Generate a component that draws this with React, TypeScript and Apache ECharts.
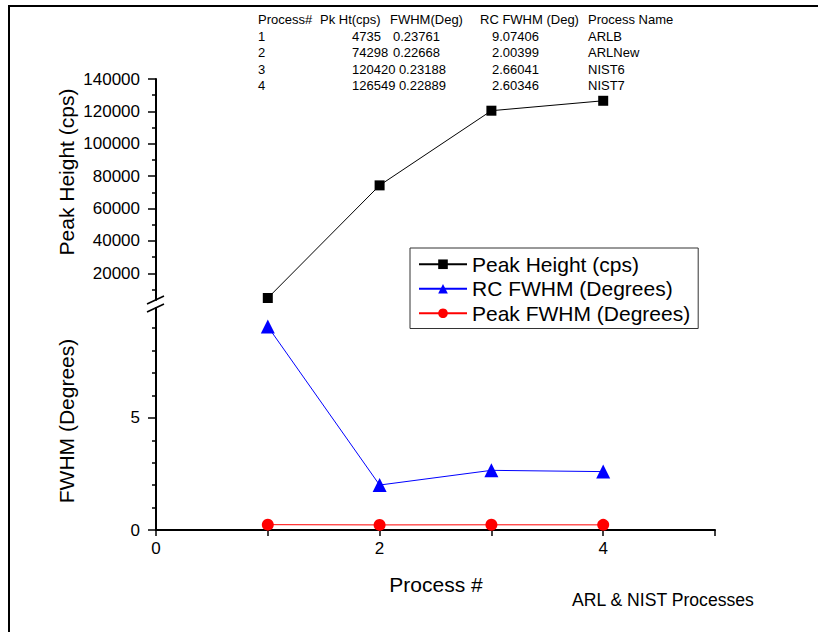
import React, { useEffect, useRef } from 'react';
import * as echarts from 'echarts';

// ---- data ----
const processNums = [1, 2, 3, 4];
const peakHeight = [4735, 74298, 120420, 126549];
const peakFwhm = [0.23761, 0.22668, 0.23188, 0.22889];
const rcFwhm = [9.07406, 2.00399, 2.66041, 2.60346];
const processNames = ['ARLB', 'ARLNew', 'NIST6', 'NIST7'];
const tableHeaders = ['Process#', 'Pk Ht(cps)', 'FWHM(Deg)', 'RC FWHM (Deg)', 'Process Name'];
const seriesNames = ['Peak Height (cps)', 'RC FWHM (Degrees)', 'Peak FWHM (Degrees)'];
const peakTicks = [20000, 40000, 60000, 80000, 100000, 120000, 140000];
const peakMinorTicks = [10000, 30000, 50000, 70000, 90000, 110000, 130000];
const fwhmTicks = [0, 5];
const fwhmMinorTicks = [1, 2, 3, 4, 6, 7, 8, 9];
const xLabels = [0, 2, 4];

const FONT = '"Liberation Sans", Arial, Helvetica, sans-serif';

function measure(text: string, font: string): number {
  const ctx = document.createElement('canvas').getContext('2d');
  if (!ctx) return text.length * 7;
  ctx.font = font;
  return ctx.measureText(text).width;
}

const plain = (v: number) => String(v);

export default function App() {
  const ref = useRef<HTMLDivElement>(null);

  useEffect(() => {
    if (!ref.current) return;
    const chart = echarts.init(ref.current, null, { renderer: 'svg' });

    const tFont = `13px ${FONT}`;
    const colX = [258, 320, 390, 480, 588];
    const table: any[] = [];
    tableHeaders.forEach((h, i) => {
      table.push({ type: 'text', x: colX[i], y: 19, style: { text: h, font: tFont, fill: '#000', textVerticalAlign: 'middle' } });
    });
    processNums.forEach((p, r) => {
      const y = 36 + r * 16.5;
      const pk = String(peakHeight[r]);
      const pkX = 352;
      const fwX = Math.max(393, pkX + measure(pk, tFont) + 3.5);
      const cells = [
        [String(p), 258],
        [pk, pkX],
        [String(peakFwhm[r]), fwX],
        [String(rcFwhm[r]), 492],
        [processNames[r], 588],
      ];
      cells.forEach(([t, x]) => {
        table.push({ type: 'text', x, y, style: { text: t, font: tFont, fill: '#000', textVerticalAlign: 'middle' } });
      });
    });

    const axisLineStyle = { color: '#000', width: 2 };

    chart.setOption({
      animation: false,
      backgroundColor: '#fff',
      textStyle: { fontFamily: FONT },
      grid: [
        { left: 156, right: 103, top: 79, height: 221 },
        { left: 156, right: 103, top: 308, bottom: 102 },
      ],
      legend: {
        orient: 'vertical',
        left: 410,
        top: 248,
        itemWidth: 48,
        itemHeight: 12,
        itemGap: 0,
        padding: [4, 8, 3, 8],
        borderColor: '#333',
        borderWidth: 1,
        selectedMode: false,
        textStyle: { fontSize: 21, fontFamily: FONT, color: '#000', lineHeight: 24.5 },
        data: seriesNames,
      },
      xAxis: [
        { gridIndex: 0, type: 'value', min: 0, max: 5, show: false },
        {
          gridIndex: 1,
          type: 'value',
          min: 0,
          max: 5,
          interval: 1,
          axisLine: { lineStyle: axisLineStyle },
          axisTick: { length: 6, lineStyle: { color: '#000', width: 1.5 } },
          axisLabel: { customValues: xLabels, formatter: plain, fontSize: 17, color: '#000', margin: 10, fontFamily: FONT },
          splitLine: { show: false },
        },
      ],
      yAxis: [
        {
          gridIndex: 0,
          type: 'value',
          position: 'left',
          min: 3500,
          max: 140000,
          axisLine: { show: true, lineStyle: axisLineStyle },
          axisTick: { show: true, customValues: peakTicks, length: 8, lineStyle: { color: '#000', width: 1.5 } },
          axisLabel: { customValues: peakTicks, formatter: plain, fontSize: 17, color: '#000', margin: 16, fontFamily: FONT },
          splitLine: { show: false },
        },
        {
          gridIndex: 0,
          type: 'value',
          position: 'left',
          min: 3500,
          max: 140000,
          axisLine: { show: false },
          axisTick: { show: true, customValues: peakMinorTicks, length: 4, lineStyle: { color: '#000', width: 1.5 } },
          axisLabel: { show: false },
          splitLine: { show: false },
        },
        {
          gridIndex: 1,
          type: 'value',
          position: 'left',
          min: 0,
          max: 9.9,
          axisLine: { show: true, lineStyle: axisLineStyle },
          axisTick: { show: true, customValues: fwhmTicks, length: 8, lineStyle: { color: '#000', width: 1.5 } },
          axisLabel: { customValues: fwhmTicks, formatter: plain, fontSize: 17, color: '#000', margin: 16, fontFamily: FONT },
          splitLine: { show: false },
        },
        {
          gridIndex: 1,
          type: 'value',
          position: 'left',
          min: 0,
          max: 9.9,
          axisLine: { show: false },
          axisTick: { show: true, customValues: fwhmMinorTicks, length: 4, lineStyle: { color: '#000', width: 1.5 } },
          axisLabel: { show: false },
          splitLine: { show: false },
        },
      ],
      series: [
        {
          name: seriesNames[0],
          type: 'line',
          xAxisIndex: 0,
          yAxisIndex: 0,
          data: processNums.map((p, i) => [p, peakHeight[i]]),
          symbol: 'rect',
          symbolSize: 10,
          itemStyle: { color: '#000' },
          lineStyle: { color: '#000', width: 1 },
        },
        {
          name: seriesNames[1],
          type: 'line',
          xAxisIndex: 1,
          yAxisIndex: 2,
          data: processNums.map((p, i) => [p, rcFwhm[i]]),
          symbol: 'triangle',
          symbolSize: 14,
          itemStyle: { color: '#0000ff' },
          lineStyle: { color: '#0000ff', width: 1 },
        },
        {
          name: seriesNames[2],
          type: 'line',
          xAxisIndex: 1,
          yAxisIndex: 2,
          data: processNums.map((p, i) => [p, peakFwhm[i]]),
          symbol: 'circle',
          symbolSize: 12,
          itemStyle: { color: '#ff0000' },
          lineStyle: { color: '#ff0000', width: 1 },
        },
      ],
      graphic: [
        { type: 'line', shape: { x1: 9, y1: 6, x2: 9, y2: 632 }, style: { stroke: '#000', lineWidth: 2 } },
        { type: 'line', shape: { x1: 8, y1: 6, x2: 818, y2: 6 }, style: { stroke: '#000', lineWidth: 2 } },
        { type: 'line', shape: { x1: 147, y1: 304, x2: 164, y2: 296 }, style: { stroke: '#000', lineWidth: 1.5 } },
        { type: 'line', shape: { x1: 147, y1: 312, x2: 164, y2: 304 }, style: { stroke: '#000', lineWidth: 1.5 } },
        {
          type: 'text', x: 66, y: 172, rotation: Math.PI / 2,
          style: { text: 'Peak Height (cps)', font: `21px ${FONT}`, fill: '#000', textAlign: 'center', textVerticalAlign: 'middle' },
        },
        {
          type: 'text', x: 66, y: 421, rotation: Math.PI / 2,
          style: { text: 'FWHM (Degrees)', font: `21px ${FONT}`, fill: '#000', textAlign: 'center', textVerticalAlign: 'middle' },
        },
        {
          type: 'text', x: 436, y: 584,
          style: { text: 'Process #', font: `21px ${FONT}`, fill: '#000', textAlign: 'center', textVerticalAlign: 'middle' },
        },
        {
          type: 'text', x: 572, y: 600,
          style: { text: 'ARL & NIST Processes', font: `17.6px ${FONT}`, fill: '#000', textAlign: 'left', textVerticalAlign: 'middle' },
        },
        ...table,
      ],
    });

    return () => chart.dispose();
  }, []);

  return <div ref={ref} style={{ position: 'fixed', left: 0, top: 0, width: 818, height: 632 }} />;
}
